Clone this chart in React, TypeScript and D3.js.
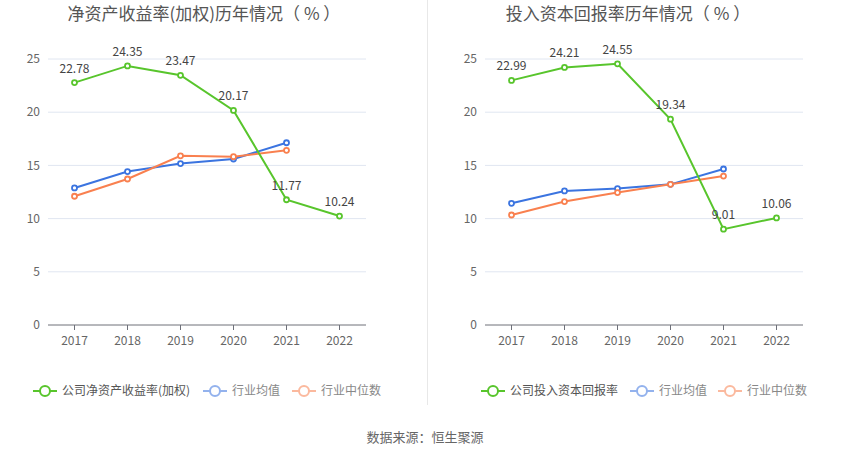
import React from "react";
import * as d3 from "d3";

const years = ["2017", "2018", "2019", "2020", "2021", "2022"];
const yTicks = [0, 5, 10, 15, 20, 25];

const roeCompany = [22.78, 24.35, 23.47, 20.17, 11.77, 10.24];
const roeAvg = [12.88, 14.42, 15.17, 15.6, 17.13];
const roeMedian = [12.1, 13.72, 15.9, 15.82, 16.42];

const roicCompany = [22.99, 24.21, 24.55, 19.34, 9.01, 10.06];
const roicAvg = [11.44, 12.6, 12.82, 13.22, 14.66];
const roicMedian = [10.34, 11.6, 12.45, 13.22, 14.0];

const titles = ["净资产收益率(加权)历年情况（ % ）", "投入资本回报率历年情况（ % ）"];
const companyNames = ["公司净资产收益率(加权)", "公司投入资本回报率"];
const avgName = "行业均值";
const medName = "行业中位数";
const source = "数据来源：恒生聚源";

const GREEN = "#58c52c";
const BLUE = "#3b74e0";
const ORANGE = "#f9804f";
const FONT = "'Noto Sans CJK SC', 'Noto Sans', sans-serif";

type PanelProps = {
  x0: number;
  x1: number;
  title: string;
  titleX: number;
  company: number[];
  avg: number[];
  med: number[];
  companyName: string;
  legendX: number[];
};

function Panel({ x0, x1, title, titleX, company, avg, med, companyName, legendX }: PanelProps) {
  const x = d3.scaleBand<string>().domain(years).range([x0, x1]);
  const y = d3.scaleLinear().domain([0, 25]).range([325, 59]);
  const cx = (i: number) => (x(years[i]) as number) + x.bandwidth() / 2;
  const line = d3
    .line<number>()
    .x((_, i) => cx(i))
    .y((d) => y(d));

  const series = [
    { data: avg, color: BLUE },
    { data: med, color: ORANGE },
    { data: company, color: GREEN },
  ];

  return (
    <g>
      <text x={titleX} y={20} textAnchor="middle" fontSize={17} fill="#555" fontFamily={FONT}>
        {title}
      </text>
      {yTicks.map((t) => (
        <g key={t}>
          {t > 0 && <line x1={x0} x2={x1} y1={y(t)} y2={y(t)} stroke="#e0e6f1" strokeWidth={1} />}
          <text x={x0 - 8} y={y(t)} dy="0.35em" textAnchor="end" fontSize={12} fill="#666" fontFamily={FONT}>
            {t}
          </text>
        </g>
      ))}
      <line x1={x0} x2={x1} y1={y(0)} y2={y(0)} stroke="#6e7079" strokeWidth={1} />
      {years.map((yr, i) => (
        <g key={yr}>
          <line x1={cx(i)} x2={cx(i)} y1={y(0)} y2={y(0) + 5} stroke="#6e7079" />
          <text x={cx(i)} y={y(0) + 20} textAnchor="middle" fontSize={12} fill="#666" fontFamily={FONT}>
            {yr}
          </text>
        </g>
      ))}
      {series.map((s, si) => (
        <g key={si}>
          <path d={line(s.data) || ""} fill="none" stroke={s.color} strokeWidth={2} />
          {s.data.map((v, i) => (
            <circle key={i} cx={cx(i)} cy={y(v)} r={2.5} fill="#fff" stroke={s.color} strokeWidth={1.8} />
          ))}
        </g>
      ))}
      {company.map((v, i) => (
        <text key={i} x={cx(i)} y={y(v) - 10} textAnchor="middle" fontSize={12} fill="#444" fontFamily={FONT}>
          {v.toFixed(2)}
        </text>
      ))}
      {[
        { name: companyName, color: GREEN, text: "#555", op: 1 },
        { name: avgName, color: BLUE, text: "#888", op: 0.55 },
        { name: medName, color: ORANGE, text: "#888", op: 0.55 },
      ].map((l, i) => (
        <g key={i} transform={`translate(${legendX[i]},391)`}>
          <g opacity={l.op}>
            <line x1={0} x2={24} y1={0} y2={0} stroke={l.color} strokeWidth={2} />
            <circle cx={12} cy={0} r={5} fill="#fff" stroke={l.color} strokeWidth={2} />
          </g>
          <text x={29} y={0} dy="0.35em" fontSize={12} fill={l.text} fontFamily={FONT}>
            {l.name}
          </text>
        </g>
      ))}
    </g>
  );
}

export default function App() {
  return (
    <svg width={850} height={459} style={{ position: "absolute", left: 0, top: 0, background: "#fff" }}>
      <Panel
        x0={48}
        x1={366}
        title={titles[0]}
        titleX={204}
        company={roeCompany}
        avg={roeAvg}
        med={roeMedian}
        companyName={companyNames[0]}
        legendX={[33, 203, 292]}
      />
      <Panel
        x0={485}
        x1={803}
        title={titles[1]}
        titleX={628}
        company={roicCompany}
        avg={roicAvg}
        med={roicMedian}
        companyName={companyNames[1]}
        legendX={[481, 630, 718]}
      />
      <line x1={427.5} x2={427.5} y1={0} y2={405} stroke="#e8e8e8" />
      <text x={425} y={442} textAnchor="middle" fontSize={13} fill="#666" fontFamily={FONT}>
        {source}
      </text>
    </svg>
  );
}
